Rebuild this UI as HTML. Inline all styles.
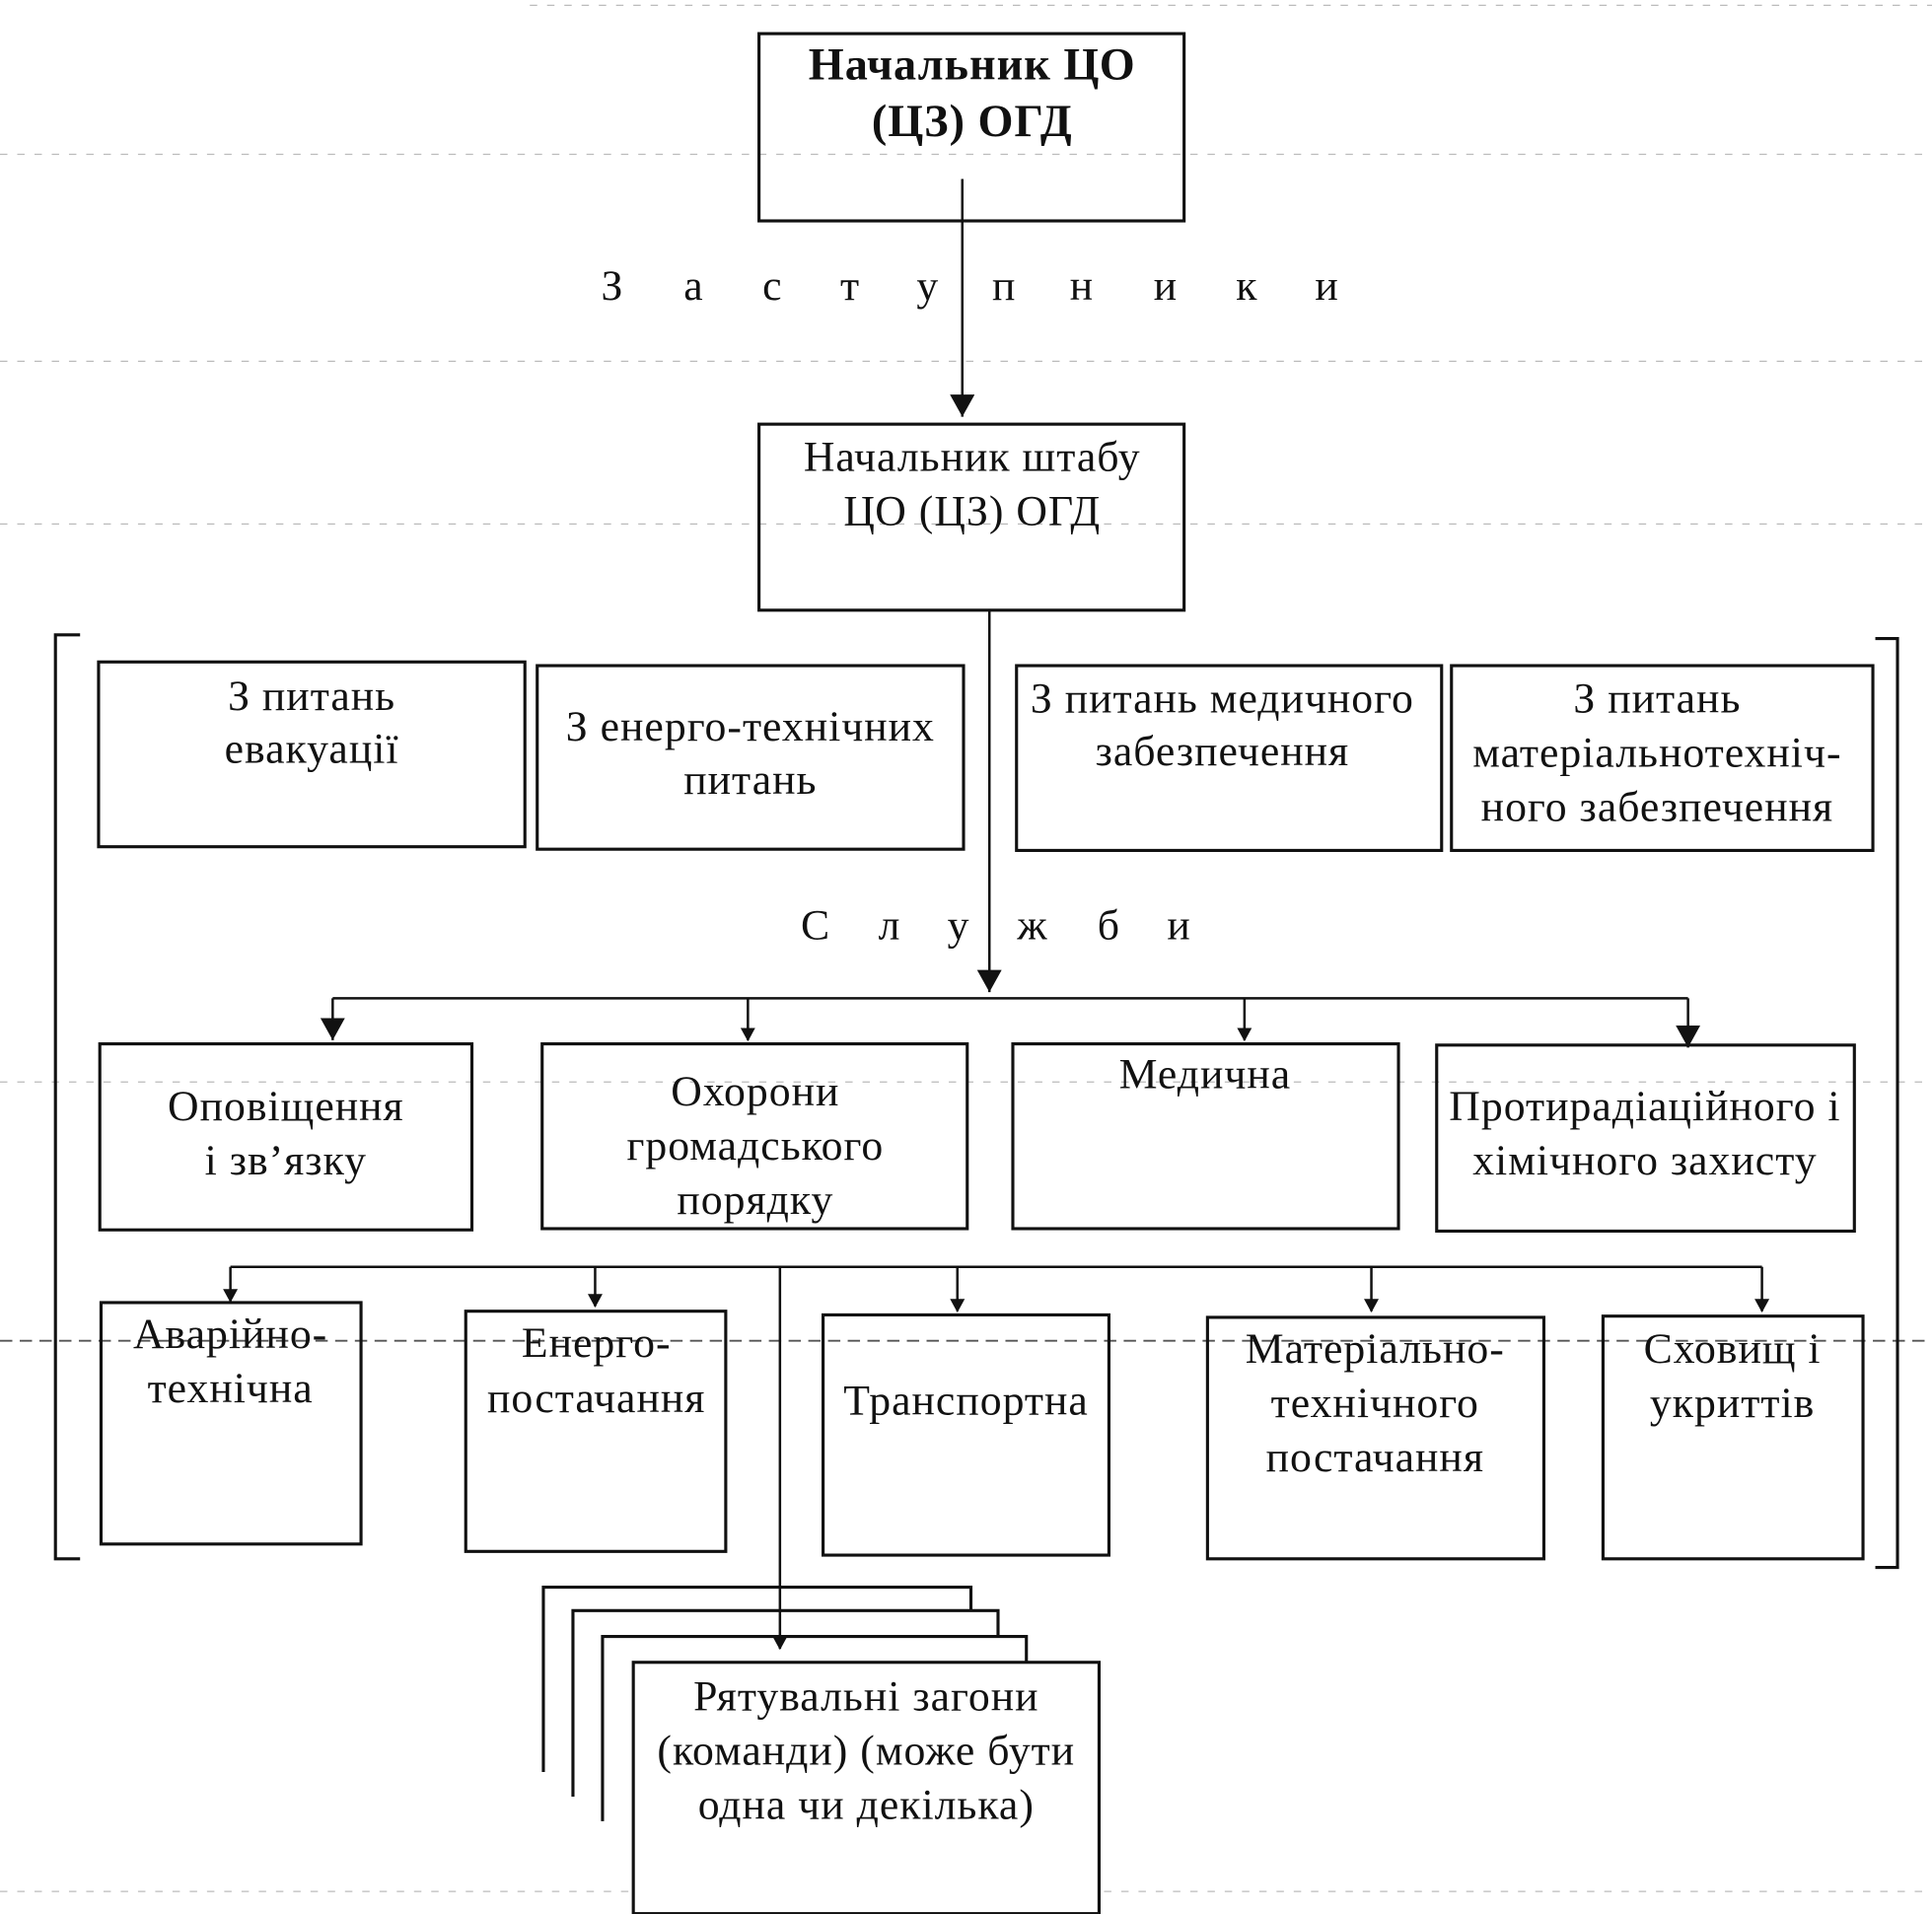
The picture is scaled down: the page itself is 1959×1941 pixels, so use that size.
<!DOCTYPE html>
<html><head><meta charset="utf-8"><style>
html,body{margin:0;padding:0;background:#fff;}
svg{display:block;}
text{font-family:"Liberation Serif","DejaVu Serif",serif;font-size:35px;letter-spacing:0.8px;fill:#111;text-anchor:middle;}
</style></head><body>
<svg width="1959" height="1941" viewBox="0 0 1568 1553" xmlns="http://www.w3.org/2000/svg">
<defs><marker id="a" markerWidth="12" markerHeight="12" refX="6" refY="10" orient="0" markerUnits="userSpaceOnUse"><path d="M0,0 L12,0 L6,11 Z" fill="#111"/></marker>
<marker id="b" markerWidth="20" markerHeight="20" refX="10" refY="18" orient="0" markerUnits="userSpaceOnUse"><path d="M0,0 L20,0 L10,18 Z" fill="#111"/></marker></defs>
<g stroke="#bbb" stroke-width="1" stroke-dasharray="6 8" fill="none">
<path d="M430,4 H1568"/><path d="M0,125 H1568"/><path d="M0,425 H1568"/><path d="M0,293 H1568"/><path d="M0,878 H1568"/><path d="M0,1535 H1568"/>
</g>
<path d="M0,1088 H1568" stroke="#555" stroke-width="1.5" stroke-dasharray="10 6"/>
<g stroke="#111" stroke-width="2.5" fill="none">
<rect x="616" y="27" width="345" height="152"/>
<rect x="616" y="344" width="345" height="151"/>
<path d="M65,515 H45 V1265 H65"/>
<path d="M1522,518 H1540 V1272 H1522"/>
<rect x="80" y="537" width="346" height="150"/>
<rect x="436" y="540" width="346" height="149"/>
<rect x="825" y="540" width="345" height="150"/>
<rect x="1178" y="540" width="342" height="150"/>
<rect x="81" y="847" width="302" height="151"/>
<rect x="440" y="847" width="345" height="150"/>
<rect x="822" y="847" width="313" height="150"/>
<rect x="1166" y="848" width="339" height="151"/>
<rect x="82" y="1057" width="211" height="196"/>
<rect x="378" y="1064" width="211" height="195"/>
<rect x="668" y="1067" width="232" height="195"/>
<rect x="980" y="1069" width="273" height="196"/>
<rect x="1301" y="1068" width="211" height="197"/>
<path d="M441,1438 V1288 H788 V1307"/>
<path d="M465,1458 V1307 H810 V1328"/>
<path d="M489,1478 V1328 H833 V1349"/>
<rect x="514" y="1349" width="378" height="204" fill="#fff"/>
</g>
<g stroke="#111" stroke-width="2" fill="none">
<path d="M781,145 V338" marker-end="url(#b)"/>
<path d="M803,495 V805" marker-end="url(#b)"/>
<path d="M270,810 H1370"/>
<path d="M270,810 V844" marker-end="url(#b)"/>
<path d="M607,810 V844" marker-end="url(#a)"/>
<path d="M1010,810 V844" marker-end="url(#a)"/>
<path d="M1370,810 V850" marker-end="url(#b)"/>
<path d="M187,1028 H1430"/>
<path d="M187,1028 V1056" marker-end="url(#a)"/>
<path d="M483,1028 V1060" marker-end="url(#a)"/>
<path d="M777,1028 V1064" marker-end="url(#a)"/>
<path d="M1113,1028 V1064" marker-end="url(#a)"/>
<path d="M1430,1028 V1064" marker-end="url(#a)"/>
<path d="M633,1028 V1338" marker-end="url(#a)"/>
</g>
<text x="789" y="64" style="font-weight:bold;font-size:37px">Начальник ЦО</text>
<text x="789" y="110" style="font-weight:bold;font-size:37px">(ЦЗ) ОГД</text>
<g style="font-size:36px"><text x="497" y="243">З</text><text x="563" y="243">а</text><text x="627" y="243">с</text><text x="690" y="243">т</text><text x="753" y="243">у</text><text x="815" y="243">п</text><text x="878" y="243">н</text><text x="946" y="243">и</text><text x="1012" y="243">к</text><text x="1077" y="243">и</text></g>
<text x="789" y="382">Начальник штабу</text>
<text x="789" y="426">ЦО (ЦЗ) ОГД</text>
<text x="253" y="576">З питань</text><text x="253" y="619">евакуації</text>
<text x="609" y="601">З енерго-технічних</text><text x="609" y="644">питань</text>
<text x="992" y="578">З питань медичного</text><text x="992" y="621">забезпечення</text>
<text x="1345" y="578">З питань</text><text x="1345" y="622">матеріальнотехніч-</text><text x="1345" y="666">ного забезпечення</text>
<g style="font-size:36px"><text x="662" y="762">С</text><text x="722" y="762">л</text><text x="778" y="762">у</text><text x="838" y="762">ж</text><text x="900" y="762">б</text><text x="957" y="762">и</text></g>
<text x="232" y="909">Оповіщення</text><text x="232" y="953">і зв’язку</text>
<text x="613" y="897">Охорони</text><text x="613" y="941">громадського</text><text x="613" y="985">порядку</text>
<text x="978" y="883">Медична</text>
<text x="1335" y="909">Протирадіаційного і</text><text x="1335" y="953">хімічного захисту</text>
<text x="187" y="1094">Аварійно-</text><text x="187" y="1138">технічна</text>
<text x="484" y="1101">Енерго-</text><text x="484" y="1146">постачання</text>
<text x="784" y="1148">Транспортна</text>
<text x="1116" y="1106">Матеріально-</text><text x="1116" y="1150">технічного</text><text x="1116" y="1194">постачання</text>
<text x="1406" y="1106">Сховищ і</text><text x="1406" y="1150">укриттів</text>
<text x="703" y="1388">Рятувальні загони</text><text x="703" y="1432">(команди) (може бути</text><text x="703" y="1476">одна чи декілька)</text>
</svg>
</body></html>
